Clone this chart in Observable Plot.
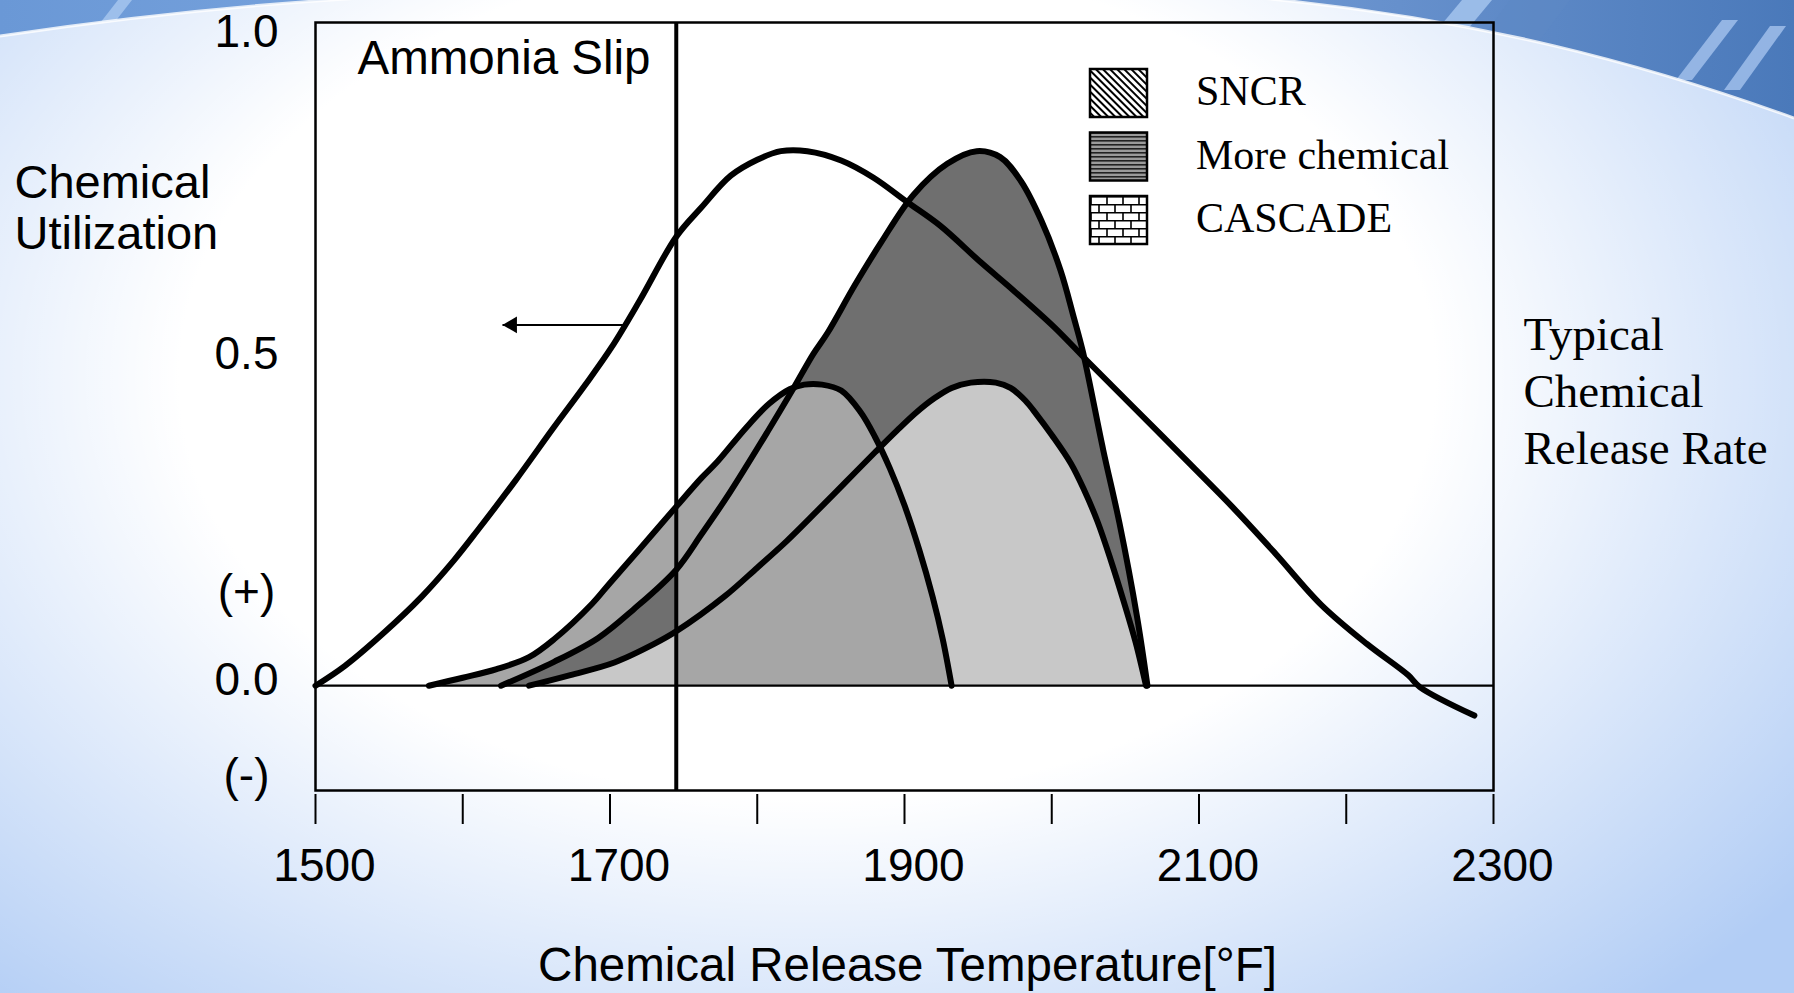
<!DOCTYPE html>
<html>
<head>
<meta charset="utf-8">
<script src="https://cdn.jsdelivr.net/npm/d3@7"></script>
<script src="https://cdn.jsdelivr.net/npm/@observablehq/plot@0.6"></script>
<style>
html, body { margin: 0; padding: 0; width: 1794px; height: 993px; overflow: hidden; }
body {
  position: relative;
  background:
    radial-gradient(ellipse 70% 85% at 45% 38%, rgba(255,255,255,1) 50%, rgba(255,255,255,0) 100%),
    #b2cdf5;
}
#bg { position: absolute; left: 0; top: 0; }
#chart { position: absolute; left: 0; top: 0; }
</style>
</head>
<body>
<svg id="bg" width="1794" height="993">
  <defs>
    <linearGradient id="band" x1="0" x2="1" y1="0" y2="0">
      <stop offset="0" stop-color="#6a98d6"/>
      <stop offset="0.45" stop-color="#86aee4"/>
      <stop offset="0.78" stop-color="#6690cc"/>
      <stop offset="1" stop-color="#4a79ba"/>
    </linearGradient>
    <clipPath id="bandClip">
      <path d="M0,0 H1794 V118 C1650,66 1480,18 1250,-3 L380,-3 C250,4 120,18 0,36 Z"/>
    </clipPath>
  </defs>
  <path d="M0,0 H1794 V118 C1650,66 1480,18 1250,-3 L380,-3 C250,4 120,18 0,36 Z" fill="url(#band)"/>
  <g clip-path="url(#bandClip)">
    <polygon points="1462,0 1492,0 1462,36 1432,36" fill="#a9c8f0" opacity="0.8"/>
    <polygon points="1510,0 1570,0 1540,40 1480,40" fill="#5e88c4" opacity="0.6"/>
    <polygon points="1722,20 1738,20 1692,80 1676,80" fill="#a5c3ee" opacity="0.8"/>
    <polygon points="1770,26 1786,26 1740,90 1724,90" fill="#a5c3ee" opacity="0.8"/>
    <polygon points="118,0 132,0 104,36 90,36" fill="#a9c8f0" opacity="0.8"/>
  </g>
  <path d="M1794,118 C1650,66 1480,18 1250,-3" fill="none" stroke="#ffffff" stroke-width="3" opacity="0.8"/>
  <path d="M380,-3 C250,4 120,18 0,36" fill="none" stroke="#ffffff" stroke-width="3" opacity="0.8"/>
</svg>
<div id="chart"></div>
<script>
// ---------------- data ----------------
const utilT = [1500, 1520, 1547, 1572, 1594, 1610, 1636, 1662, 1683, 1701, 1720, 1745, 1762, 1782, 1800, 1816, 1834, 1857, 1879, 1902, 1924, 1952, 1974, 2002, 2024, 2055, 2094, 2125, 2152, 2183, 2214, 2242, 2250, 2287];
const utilV = [0, 0.03, 0.081, 0.134, 0.189, 0.234, 0.31, 0.39, 0.453, 0.51, 0.58, 0.677, 0.721, 0.769, 0.793, 0.806, 0.806, 0.792, 0.766, 0.729, 0.694, 0.638, 0.596, 0.54, 0.49, 0.421, 0.334, 0.264, 0.199, 0.122, 0.063, 0.016, -0.002, -0.045];

const sncrT = [1577, 1600, 1623, 1645, 1662, 1688, 1700, 1719, 1745, 1762, 1773, 1792, 1808, 1822, 1832, 1844, 1857, 1870, 1880, 1890, 1900, 1910, 1919, 1926, 1932];
const sncrV = [0, 0.012, 0.025, 0.043, 0.07, 0.124, 0.155, 0.203, 0.27, 0.313, 0.338, 0.388, 0.425, 0.447, 0.454, 0.454, 0.445, 0.413, 0.375, 0.328, 0.272, 0.205, 0.135, 0.07, 0];

const moreT = [1626, 1662, 1692, 1716, 1745, 1762, 1781, 1807, 1825, 1838, 1848, 1866, 1884, 1906, 1929, 1949, 1965, 1979, 1993, 2006, 2015, 2021, 2035, 2046, 2058, 2065];
const moreV = [0, 0.036, 0.072, 0.115, 0.175, 0.228, 0.29, 0.383, 0.45, 0.5, 0.533, 0.603, 0.668, 0.74, 0.787, 0.806, 0.797, 0.761, 0.701, 0.626, 0.555, 0.505, 0.355, 0.245, 0.103, 0];

const cascT = [1645, 1673, 1703, 1730, 1745, 1778, 1800, 1820, 1840, 1860, 1880, 1895, 1908, 1920, 1932, 1945, 1962, 1972, 1982, 1990, 2000, 2013, 2022, 2031, 2040, 2049, 2057, 2064];
const cascV = [0, 0.016, 0.035, 0.063, 0.082, 0.135, 0.178, 0.218, 0.262, 0.307, 0.352, 0.385, 0.412, 0.433, 0.449, 0.457, 0.457, 0.449, 0.43, 0.408, 0.378, 0.335, 0.295, 0.248, 0.19, 0.126, 0.065, 0];

const ammoniaT = 1745;                 // Ammonia slip limit
const arrowFromT = 1710, arrowToT = 1627, arrowV = 0.544;

const xTicks = [1500, 1600, 1700, 1800, 1900, 2000, 2100, 2200, 2300];
const xTickLabels = [1500, 1700, 1900, 2100, 2300];
const yLabelValues = [0.986, 0.5, 0.141, 0.008, -0.136];
const yLabelTexts = ["1.0", "0.5", "(+)", "0.0", "(-)"];

const legendLabels = ["SNCR", "More chemical", "CASCADE"];
const legendPatterns = ["hatch", "hlines", "bricks"];

const xTitle = "Chemical Release Temperature[°F]";
const yTitle = "Chemical\nUtilization";
const rightTitle = "Typical\nChemical\nRelease Rate";
const slipLabel = "Ammonia Slip";

// ---------------- build ----------------
const toRows = (T, V) => T.map((t, i) => ({t, v: V[i]}));
const util = toRows(utilT, utilV);
const sncr = toRows(sncrT, sncrV);
const more = toRows(moreT, moreV);
const casc = toRows(cascT, cascV);

const C_SNCR = "#a6a6a6", C_MORE = "#6f6f6f", C_CASC = "#c8c8c8";
const curve = "catmull-rom";
const sans = "'Liberation Sans', Arial, sans-serif";
const serif = "'Liberation Serif', 'Times New Roman', serif";
const lw = 6;

const chart = Plot.plot({
  width: 1794,
  height: 993,
  marginLeft: 315, marginRight: 301, marginTop: 22, marginBottom: 203,
  x: {domain: [1500, 2300], axis: null},
  y: {domain: [-0.158, 1.0], axis: null},
  style: {background: "transparent", fontFamily: sans, fontSize: "46px", color: "black", overflow: "visible"},
  marks: [
    Plot.areaY(sncr.filter(d => d.t <= ammoniaT), {x: "t", y: "v", fill: C_SNCR, curve}),
    Plot.areaY(more, {x: "t", y: "v", fill: C_MORE, curve}),
    Plot.areaY(casc, {x: "t", y: "v", fill: C_CASC, curve}),
    Plot.areaY(sncr.filter(d => d.t >= ammoniaT), {x: "t", y: "v", fill: C_SNCR, curve}),
    Plot.ruleY([0], {stroke: "black", strokeWidth: 2.2}),
    Plot.line(util, {x: "t", y: "v", stroke: "black", strokeWidth: lw, curve, strokeLinejoin: "round", strokeLinecap: "round"}),
    Plot.line(sncr, {x: "t", y: "v", stroke: "black", strokeWidth: lw, curve, strokeLinejoin: "round"}),
    Plot.line(more, {x: "t", y: "v", stroke: "black", strokeWidth: lw, curve, strokeLinejoin: "round"}),
    Plot.line(casc, {x: "t", y: "v", stroke: "black", strokeWidth: lw, curve, strokeLinejoin: "round"}),
    Plot.ruleX([ammoniaT], {stroke: "black", strokeWidth: 4}),
    Plot.frame({stroke: "black", strokeWidth: 2.5}),
    Plot.link([{a: arrowFromT, b: arrowToT, v: arrowV}], {x1: "a", x2: "b", y1: "v", y2: "v", stroke: "black", strokeWidth: 2}),
    Plot.dot([{b: arrowToT, v: arrowV}], {x: "b", y: "v", symbol: "triangle", r: 6.2, fill: "black", stroke: "none", rotate: -90, dx: 9.6}),
    Plot.axisX(xTicks, {tickSize: 30, dy: 4, tickFormat: () => "", strokeWidth: 2, stroke: "black"}),
    Plot.text(xTickLabels, {x: d => d, text: d => String(d), frameAnchor: "bottom", dy: 90, dx: 9, lineAnchor: "bottom", fontSize: 46, fontFamily: sans, fill: "black"}),
    Plot.text(yLabelTexts, {y: (d, i) => yLabelValues[i], text: d => d, frameAnchor: "left", dx: -69, textAnchor: "middle", lineAnchor: "middle", fontSize: 46, fontFamily: sans, fill: "black"}),
    Plot.text([xTitle], {text: d => d, frameAnchor: "bottom", dx: 3, dy: 190, lineAnchor: "bottom", fontSize: 47.5, fontFamily: sans, fill: "black"}),
    Plot.text([yTitle], {text: d => d, frameAnchor: "top-left", dx: -301, dy: 139, textAnchor: "start", lineAnchor: "top", lineHeight: 1.09, fontSize: 47, fontFamily: sans, fill: "black"}),
    Plot.text([slipLabel], {text: d => d, frameAnchor: "top-left", dx: 42, dy: 18, textAnchor: "start", lineAnchor: "top", fontSize: 47.5, fontFamily: sans, fill: "black"}),
    Plot.text([rightTitle], {text: d => d, frameAnchor: "top-right", dx: 30, dy: 287, textAnchor: "start", lineAnchor: "top", lineHeight: 1.21, fontSize: 47, fontFamily: serif, fill: "black"})
  ]
});
document.getElementById("chart").appendChild(chart);

// ---------------- legend (patterned swatches) ----------------
const svg = d3.select(chart);
const defs = svg.append("defs");
const pHatch = defs.append("pattern").attr("id", "hatch").attr("patternUnits", "userSpaceOnUse")
  .attr("width", 5).attr("height", 5).attr("patternTransform", "rotate(-45)");
pHatch.append("rect").attr("width", 5).attr("height", 5).attr("fill", "white");
pHatch.append("rect").attr("width", 2).attr("height", 5).attr("fill", "black");
const pH = defs.append("pattern").attr("id", "hlines").attr("patternUnits", "userSpaceOnUse")
  .attr("width", 4).attr("height", 4);
pH.append("rect").attr("width", 4).attr("height", 4).attr("fill", "#9a9a9a");
pH.append("rect").attr("width", 4).attr("height", 1.6).attr("fill", "#222");
const pB = defs.append("pattern").attr("id", "bricks").attr("patternUnits", "userSpaceOnUse")
  .attr("width", 16).attr("height", 16).attr("x", 1090).attr("y", 196);
pB.append("rect").attr("width", 16).attr("height", 16).attr("fill", "white");
pB.append("path").attr("d", "M0,0.75H16M0,8.75H16M1,0V8M9,8V16").attr("stroke", "black").attr("stroke-width", 1.6).attr("fill", "none");

const lg = svg.append("g").attr("text-anchor", "start");
legendLabels.forEach((lab, i) => {
  const y0 = 69 + i * 63.5;
  lg.append("rect").attr("x", 1090).attr("y", y0).attr("width", 57).attr("height", 48)
    .attr("fill", `url(#${legendPatterns[i]})`).attr("stroke", "black").attr("stroke-width", 2.5);
  lg.append("text").attr("x", 1196).attr("y", y0 + 36).attr("text-anchor", "start").text(lab)
    .attr("font-family", serif).attr("font-size", 42).attr("fill", "black");
});
</script>
</body>
</html>
